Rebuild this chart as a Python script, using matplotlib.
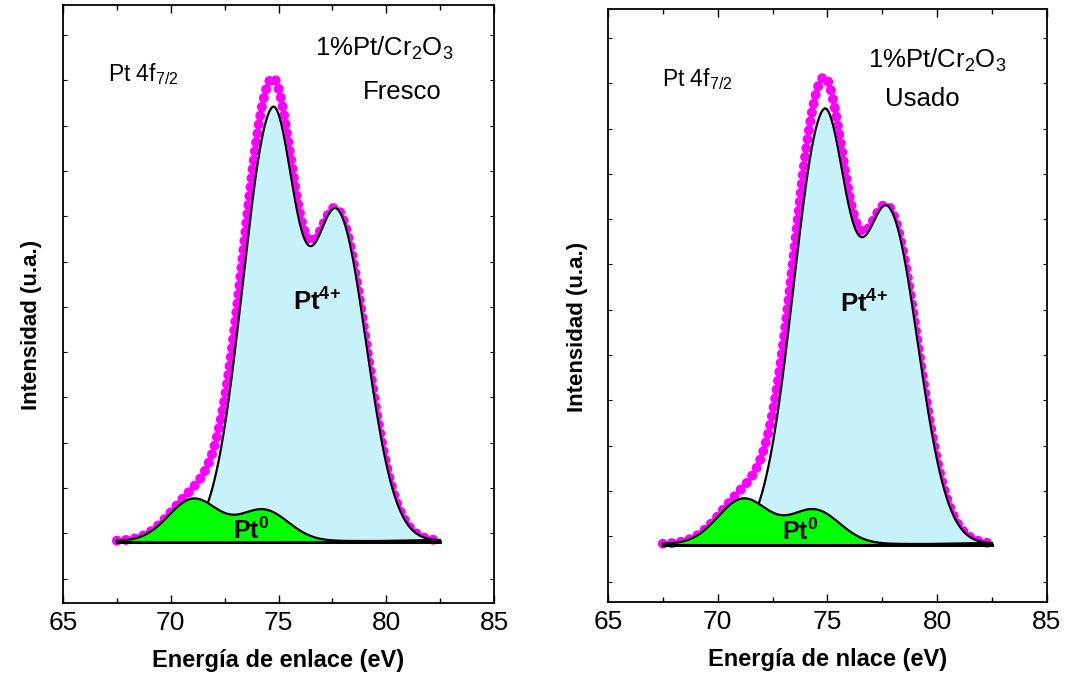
import numpy as np
import matplotlib
matplotlib.use("Agg")
import matplotlib.pyplot as plt

plt.rcParams['font.family'] = ['Liberation Sans', 'DejaVu Sans']
plt.rcParams['mathtext.fontset'] = 'custom'
plt.rcParams['mathtext.rm'] = 'Liberation Sans'
plt.rcParams['mathtext.it'] = 'Liberation Sans:italic'
plt.rcParams['mathtext.bf'] = 'Liberation Sans:bold'

# binding energy window of the Pt 4f7/2 region (eV)
E_MIN, E_MAX = 67.5, 82.5

# fitted components: centre (eV), height (a.u.), left / right sigma (eV)
fresco_pt4_center = [74.68, 77.75]
fresco_pt4_height = [421, 323]
fresco_pt4_sig_l = [1.35, 1.20]
fresco_pt4_sig_r = [1.10, 1.33]
fresco_pt0_center = [71.05, 74.30]
fresco_pt0_height = [42, 31]
fresco_pt0_sigma = [1.15, 1.15]

usado_pt4_center = [74.79, 77.80]
usado_pt4_height = [420, 327]
usado_pt4_sig_l = [1.35, 1.20]
usado_pt4_sig_r = [1.10, 1.33]
usado_pt0_center = [71.16, 74.40]
usado_pt0_height = [45, 34]
usado_pt0_sigma = [1.15, 1.15]

x_ticks = [65, 70, 75, 80, 85]


def split_gauss(x, c, h, sl, sr):
    s = np.where(x < c, sl, sr)
    return h * np.exp(-0.5 * ((x - c) / s) ** 2)


def component(x, centers, heights, sig_l, sig_r):
    y = np.zeros_like(x)
    for c, h, sl, sr in zip(centers, heights, sig_l, sig_r):
        y += split_gauss(x, c, h, sl, sr)
    return y


def draw_panel(ax, pt4, pt0, sample, xlabel, ylim, texts):
    xf = np.linspace(E_MIN, E_MAX, 1500)
    y4 = component(xf, *pt4)
    y0 = component(xf, pt0[0], pt0[1], pt0[2], pt0[2])
    env = y4 + y0

    # experimental envelope as a heavy round-dotted line
    ax.plot(xf, env, color='#ff00ff', lw=7.2, ls=(0, (0.001, 0.9)),
            dash_capstyle='round', zorder=2)
    ax.fill_between(xf, 0, y4, color='#c8f2fa', zorder=3)
    ax.plot(xf, y4, color='black', lw=1.6, zorder=4)
    ax.fill_between(xf, 0, y0, color='#00ff00', zorder=5)
    ax.plot(xf, y0, color='black', lw=1.6, zorder=6)
    ax.plot([E_MIN, E_MAX], [-1, -1], color='black', lw=2.2, zorder=7)
    ax.plot([76.5, E_MAX], [-1, 1.5], color='black', lw=1.0, zorder=7)

    ax.set_xlim(65, 85)
    ax.set_ylim(*ylim)
    ax.set_xticks(x_ticks)
    ax.set_xticks(np.arange(67.5, 85, 5), minor=True)
    ax.set_yticks(np.arange(506, ylim[0], -45.3))
    ax.set_yticklabels([])
    ax.tick_params(axis='x', which='major', direction='in', top=True,
                   length=6, width=1, labelsize=19, pad=6)
    ax.tick_params(axis='x', which='minor', direction='in', top=True,
                   length=3.5, width=1)
    ax.tick_params(axis='y', which='major', direction='in', right=True,
                   length=3, width=0.8)
    for sp in ax.spines.values():
        sp.set_linewidth(1.3)

    ax.set_xlabel(xlabel, fontsize=17, fontweight='bold', labelpad=10)
    ax.set_ylabel('Intensidad (u.a.)', fontsize=16, fontweight='bold',
                  family=['Liberation Sans Narrow', 'Liberation Sans'])

    (px, py), (cx, cy), (sx, sy), (p4x, p4y), (p0x, p0y) = texts
    ax.text(px, py, r'Pt 4f$_{7/2}$', fontsize=16.5, zorder=8)
    ax.text(cx, cy, r'1%Pt/Cr$_2$O$_3$', fontsize=18.5, zorder=8)
    ax.text(sx, sy, sample, fontsize=18.5, zorder=8)
    ax.text(p4x, p4y, r'$\mathbf{Pt^{4{+}}}$', fontsize=18.5, zorder=8)
    ax.text(p0x, p0y, r'$\mathbf{Pt^{0}}$', fontsize=18, zorder=8)


fig = plt.figure(figsize=(10.7, 6.85), dpi=100)
ax1 = fig.add_axes([0.0589, 0.1197, 0.4028, 0.873])
ax2 = fig.add_axes([0.5682, 0.1212, 0.4103, 0.8657])

draw_panel(ax1,
           (fresco_pt4_center, fresco_pt4_height, fresco_pt4_sig_l, fresco_pt4_sig_r),
           (fresco_pt0_center, fresco_pt0_height, fresco_pt0_sigma),
           'Fresco', 'Energía de enlace (eV)', (-62, 536),
           [(67.09, 460), (76.69, 485), (78.92, 442), (75.67, 230), (72.89, 2)])
draw_panel(ax2,
           (usado_pt4_center, usado_pt4_height, usado_pt4_sig_l, usado_pt4_sig_r),
           (usado_pt0_center, usado_pt0_height, usado_pt0_sigma),
           'Usado', 'Energía de nlace (eV)', (-58, 535),
           [(67.46, 458), (76.85, 476), (77.62, 438), (75.57, 231), (72.93, 4)])

ax1.yaxis.set_label_coords(-0.049, 0.465)
ax2.yaxis.set_label_coords(-0.046, 0.464)

fig.savefig('out.png', dpi=100)
